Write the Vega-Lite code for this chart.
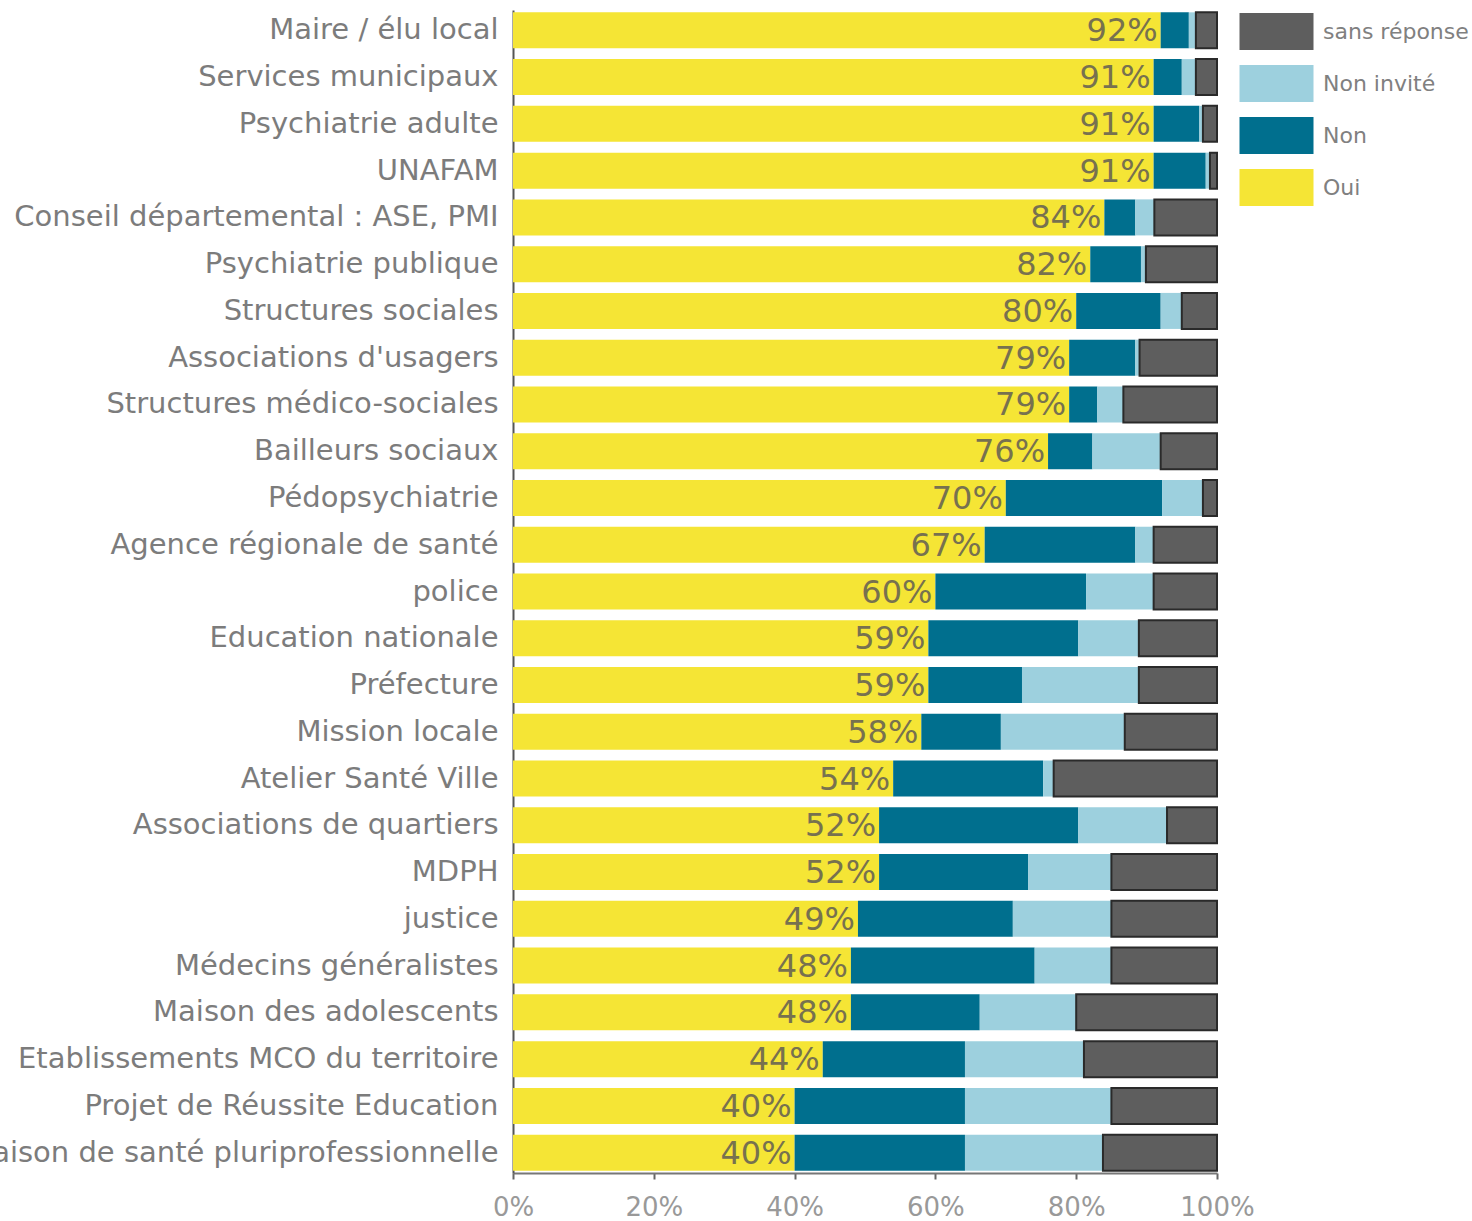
{
  "$schema": "https://vega.github.io/schema/vega-lite/v6.json",
  "autosize": "none",
  "padding": {"left": 513, "top": 10, "right": 255, "bottom": 48},
  "width": 704,
  "height": 1163,
  "background": "white",
  "config": {"view": {"stroke": null}, "font": "DejaVu Sans"},
  "data": {"values": [
    {"c": "Maire / élu local", "oui": 92, "non": 4, "ni": 1, "sr": 3},
    {"c": "Services municipaux", "oui": 91, "non": 4, "ni": 2, "sr": 3},
    {"c": "Psychiatrie adulte", "oui": 91, "non": 6.5, "ni": 0.5, "sr": 2},
    {"c": "UNAFAM", "oui": 91, "non": 7.4, "ni": 0.6, "sr": 1},
    {"c": "Conseil départemental : ASE, PMI", "oui": 84, "non": 4.4, "ni": 2.7, "sr": 8.9},
    {"c": "Psychiatrie publique", "oui": 82, "non": 7.2, "ni": 0.7, "sr": 10.1},
    {"c": "Structures sociales", "oui": 80, "non": 12, "ni": 3, "sr": 5},
    {"c": "Associations d'usagers", "oui": 79, "non": 9.4, "ni": 0.6, "sr": 11},
    {"c": "Structures médico-sociales", "oui": 79, "non": 4, "ni": 3.7, "sr": 13.3},
    {"c": "Bailleurs sociaux", "oui": 76, "non": 6.3, "ni": 9.7, "sr": 8},
    {"c": "Pédopsychiatrie", "oui": 70, "non": 22.2, "ni": 5.8, "sr": 2},
    {"c": "Agence régionale de santé", "oui": 67, "non": 21.4, "ni": 2.6, "sr": 9},
    {"c": "police", "oui": 60, "non": 21.4, "ni": 9.6, "sr": 9},
    {"c": "Education nationale", "oui": 59, "non": 21.3, "ni": 8.6, "sr": 11.1},
    {"c": "Préfecture", "oui": 59, "non": 13.3, "ni": 16.6, "sr": 11.1},
    {"c": "Mission locale", "oui": 58, "non": 11.3, "ni": 17.6, "sr": 13.1},
    {"c": "Atelier Santé Ville", "oui": 54, "non": 21.3, "ni": 1.5, "sr": 23.2},
    {"c": "Associations de quartiers", "oui": 52, "non": 28.3, "ni": 12.6, "sr": 7.1},
    {"c": "MDPH", "oui": 52, "non": 21.2, "ni": 11.8, "sr": 15},
    {"c": "justice", "oui": 49, "non": 22, "ni": 14, "sr": 15},
    {"c": "Médecins généralistes", "oui": 48, "non": 26.1, "ni": 10.9, "sr": 15},
    {"c": "Maison des adolescents", "oui": 48, "non": 18.3, "ni": 13.7, "sr": 20},
    {"c": "Etablissements MCO du territoire", "oui": 44, "non": 20.2, "ni": 16.9, "sr": 18.9},
    {"c": "Projet de Réussite Education", "oui": 40, "non": 24.2, "ni": 20.8, "sr": 15},
    {"c": "Maison de santé pluriprofessionnelle", "oui": 40, "non": 24.2, "ni": 19.6, "sr": 16.2}
  ]},
  "encoding": {
    "y": {
      "field": "c", "type": "nominal", "sort": null, "title": null,
      "scale": {"paddingInner": 0.23, "paddingOuter": 0.05},
      "axis": {"labelFontSize": 29, "labelColor": "#7c7c7c", "labelPadding": 15, "ticks": false, "domain": true, "domainColor": "#555555", "domainWidth": 2, "labelLimit": 0}
    }
  },
  "layer": [
    {
      "transform": [
        {"fold": ["oui", "non", "ni", "sr"], "as": ["k", "val"]},
        {"calculate": "{'oui': 'Oui', 'non': 'Non', 'ni': 'Non invité', 'sr': 'sans réponse'}[datum.k]", "as": "resp"},
        {"calculate": "indexof(['oui','non','ni','sr'], datum.k)", "as": "ord"}
      ],
      "mark": {"type": "bar", "strokeWidth": 2},
      "encoding": {
        "x": {
          "field": "val", "type": "quantitative", "stack": "zero", "title": null,
          "scale": {"domain": [0, 100], "nice": false, "zero": true},
          "axis": {"values": [0, 20, 40, 60, 80, 100], "labelExpr": "datum.value + '%'", "labelFlush": false, "labelFontSize": 26, "labelColor": "#999999", "labelPadding": 15, "tickSize": 6, "tickColor": "#666666", "tickWidth": 2, "domainColor": "#777777", "domainWidth": 2, "grid": false}
        },
        "order": {"field": "ord", "type": "quantitative"},
        "color": {
          "field": "resp", "type": "nominal",
          "scale": {"domain": ["sans réponse", "Non invité", "Non", "Oui"], "range": ["#5e5e5e", "#9dd0de", "#006f8e", "#f5e535"]},
          "legend": {
            "title": null, "orient": "none", "legendX": 744, "legendY": 2,
            "symbolType": "M-2,-1H2V1H-2Z", "symbolSize": 1369, "symbolOpacity": 1,
            "labelFontSize": 22, "labelColor": "#808080", "labelOffset": 27, "rowPadding": 7, "padding": 0,
            "symbolStrokeWidth": 2,
            "encode": {"symbols": {"update": {"stroke": {"signal": "datum.value === 'sans réponse' ? '#2a2a2a' : 'transparent'"}}}}
          }
        },
        "stroke": {"condition": {"test": "datum.k === 'sr'", "value": "#2a2a2a"}, "value": "transparent"}
      }
    },
    {
      "transform": [{"calculate": "datum.oui + '%'", "as": "lab"}],
      "mark": {"type": "text", "align": "right", "baseline": "middle", "dx": -3, "dy": 1, "fontSize": 32, "color": "#77714f"},
      "encoding": {
        "x": {"field": "oui", "type": "quantitative"},
        "text": {"field": "lab"}
      }
    }
  ]
}
